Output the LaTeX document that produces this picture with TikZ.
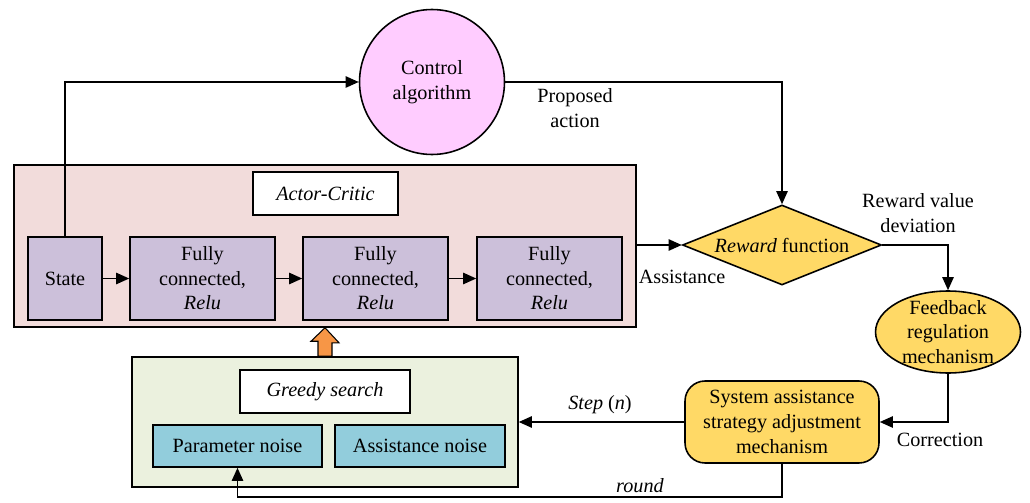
\documentclass[tikz,border=0pt]{standalone}
\usepackage{fontspec}
\newfontfamily\diagfont{LiberationSerif}[Extension=.ttf, UprightFont=*-Regular, ItalicFont=*-Italic, BoldFont=*-Bold]
\usepackage{xcolor}
\usetikzlibrary{shapes,arrows.meta,positioning,calc}
\definecolor{ctrlpink}{RGB}{255,204,255}
\definecolor{actorpink}{RGB}{242,220,219}
\definecolor{layerlav}{RGB}{204,192,218}
\definecolor{rewardgold}{RGB}{255,217,102}
\definecolor{greedygreen}{RGB}{235,241,222}
\definecolor{noiseblue}{RGB}{146,205,220}
\definecolor{blockorange}{RGB}{247,150,70}

\begin{document}
\begin{tikzpicture}[x=0.02cm, y=-0.02cm, line width=0.9pt,
	every node/.style={font=\diagfont\fontsize{11.5}{14}\selectfont, align=center},
	box/.style={draw, rectangle, inner sep=0pt},
	layer/.style={box, fill=layerlav, minimum width=2.9cm, minimum height=1.66cm},
	noise/.style={box, fill=noiseblue, minimum width=3.38cm, minimum height=0.84cm},
	flow/.style={-{Triangle[length=7.5pt,width=6.5pt]}}]
				\useasboundingbox (0,0) rectangle (1030,503);
				
				% Control algorithm
				\node[draw, circle, fill=ctrlpink, minimum size=2.9cm, inner sep=0pt] (ctrl) at (432,82) {Control\\algorithm};
				
				% Actor-Critic block
				\node[box, fill=actorpink, minimum width=12.44cm, minimum height=3.24cm] (actor) at (325,246) {};
				\node[box, fill=white, minimum width=2.9cm, minimum height=0.86cm] (aclabel) at (325.5,193.5) {\textit{Actor-Critic}};
				\node[layer, minimum width=1.48cm] (state) at (65,278.5) {State};
				\node[layer] (fc1) at (202.5,278.5) {Fully\\connected,\\\textit{Relu}};
				\node[layer] (fc2) at (375.5,278.5) {Fully\\connected,\\\textit{Relu}};
				\node[layer] (fc3) at (549.5,278.5) {Fully\\connected,\\\textit{Relu}};
				
				% Reward and feedback
				\node[draw, diamond, fill=rewardgold, shape aspect=2.5, inner sep=0pt, minimum width=3.98cm, minimum height=1.6cm] (reward) at (782,245) {\textit{Reward} function};
				\node[draw, ellipse, fill=rewardgold, inner sep=0pt, minimum width=2.9cm, minimum height=1.64cm] (feedback) at (948,332) {};
				\node (fbtext) at (feedback.center) {Feedback\\regulation\\mechanism};
				\node[draw, rounded corners=0.4cm, fill=rewardgold, minimum width=3.88cm, minimum height=1.64cm] (system) at (782,422) {System assistance\\strategy adjustment\\mechanism};
				
				% Greedy search block
				\node[box, fill=greedygreen, minimum width=7.72cm, minimum height=2.6cm] (greedy) at (325,422) {};
				\node[box, fill=white, minimum width=3.4cm, minimum height=0.86cm] (gslabel) at (325,391.5) {\textit{Greedy search}};
				\node[noise] (pnoise) at (237.5,446) {Parameter noise};
				\node[noise, minimum width=3.4cm] (anoise) at (420,446) {Assistance noise};
				
				% Block arrow
				\draw[fill=blockorange, line width=0.6pt] ($(greedy.north)+(-7,0)$) -- ++(0,-15) -- ++(-7,0) -- (actor.south) -- ++(14,15) -- ++(-7,0) -- ($(greedy.north)+(7,0)$) -- cycle;
				
				% Connections
				\draw[flow] (state.north) |- (ctrl.west);
				\draw[flow] (ctrl.east) -| (reward.north);
				\draw[flow] (state) -- (fc1);
				\draw[flow] (fc1) -- (fc2);
				\draw[flow] (fc2) -- (fc3);
				\draw[flow] (actor.east |- reward.west) -- (reward.west);
				\draw[flow] (reward.east) -| (feedback.north);
				\draw[flow] (feedback.south) |- (system.east);
				\draw[flow] (system.west) -- (greedy.east);
				\coordinate (rnd) at (782,497);
				\draw[flow] (system.south) -- (rnd) -| (pnoise.south);
				
				% Labels
				\node (proposed) at (575,108) {Proposed\\action};
				\node (assist) at (682,277) {Assistance};
				\node (deviation) at (918,213) {Reward value\\deviation};
				\node (correction) at (940,440) {Correction};
				\node (step) at (600,405) {\textit{Step} (\textit{n})};
				\node (round) at (640,486) {\textit{round}};
			\end{tikzpicture}
\end{document}
